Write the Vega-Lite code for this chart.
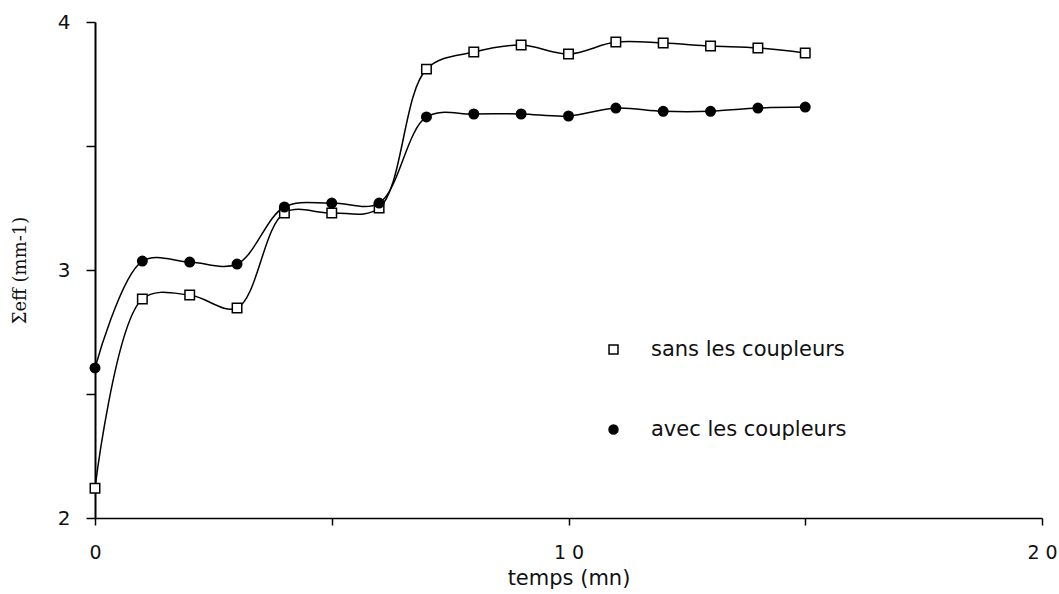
{
  "$schema": "https://vega.github.io/schema/vega-lite/v6.json",
  "width": 947,
  "height": 496,
  "autosize": "none",
  "padding": {"left": 95, "top": 22, "right": 17, "bottom": 76},
  "background": "white",
  "config": {"view": {"stroke": null}, "font": "DejaVu Sans"},
  "data": {
    "values": [
      {"s": "sans les coupleurs", "t": 0, "v": 2.12},
      {"s": "sans les coupleurs", "t": 1, "v": 2.883},
      {"s": "sans les coupleurs", "t": 2, "v": 2.899},
      {"s": "sans les coupleurs", "t": 3, "v": 2.847},
      {"s": "sans les coupleurs", "t": 4, "v": 3.23},
      {"s": "sans les coupleurs", "t": 5, "v": 3.23},
      {"s": "sans les coupleurs", "t": 6, "v": 3.25},
      {"s": "sans les coupleurs", "t": 7, "v": 3.81},
      {"s": "sans les coupleurs", "t": 8, "v": 3.879},
      {"s": "sans les coupleurs", "t": 9, "v": 3.907},
      {"s": "sans les coupleurs", "t": 10, "v": 3.871},
      {"s": "sans les coupleurs", "t": 11, "v": 3.919},
      {"s": "sans les coupleurs", "t": 12, "v": 3.915},
      {"s": "sans les coupleurs", "t": 13, "v": 3.903},
      {"s": "sans les coupleurs", "t": 14, "v": 3.895},
      {"s": "sans les coupleurs", "t": 15, "v": 3.875},
      {"s": "avec les coupleurs", "t": 0, "v": 2.605},
      {"s": "avec les coupleurs", "t": 1, "v": 3.036},
      {"s": "avec les coupleurs", "t": 2, "v": 3.032},
      {"s": "avec les coupleurs", "t": 3, "v": 3.024},
      {"s": "avec les coupleurs", "t": 4, "v": 3.254},
      {"s": "avec les coupleurs", "t": 5, "v": 3.27},
      {"s": "avec les coupleurs", "t": 6, "v": 3.27},
      {"s": "avec les coupleurs", "t": 7, "v": 3.617},
      {"s": "avec les coupleurs", "t": 8, "v": 3.629},
      {"s": "avec les coupleurs", "t": 9, "v": 3.629},
      {"s": "avec les coupleurs", "t": 10, "v": 3.621},
      {"s": "avec les coupleurs", "t": 11, "v": 3.653},
      {"s": "avec les coupleurs", "t": 12, "v": 3.64},
      {"s": "avec les coupleurs", "t": 13, "v": 3.64},
      {"s": "avec les coupleurs", "t": 14, "v": 3.653},
      {"s": "avec les coupleurs", "t": 15, "v": 3.657}
    ]
  },
  "encoding": {
    "x": {
      "field": "t",
      "type": "quantitative",
      "scale": {"domain": [0, 20], "nice": false},
      "axis": {
        "values": [0, 5, 10, 15, 20],
        "labelExpr": "datum.value % 10 ? '' : join(split(datum.label, ''), ' ')",
        "grid": false,
        "domainColor": "black",
        "domainWidth": 1.5,
        "tickColor": "black",
        "tickWidth": 1.5,
        "tickSize": 7,
        "labelPadding": 18,
        "labelFont": "DejaVu Sans",
        "labelFontSize": 19,
        "labelColor": "#111",
        "labelFlush": false,
        "labelOverlap": false,
        "title": "temps (mn)",
        "titleFont": "DejaVu Sans",
        "titleFontSize": 21,
        "titleFontWeight": "normal",
        "titleColor": "#111",
        "titleBaseline": "middle",
        "titleY": 60,
        "encode": {
          "ticks": {
            "update": {
              "y": {"signal": "datum.value === 20 ? -14 : (datum.value === 0 ? -3 : 0)"},
              "y2": {"signal": "datum.value === 20 ? 12 : (datum.value % 10 ? 4 : 7)"}
            }
          }
        }
      }
    },
    "y": {
      "field": "v",
      "type": "quantitative",
      "scale": {"domain": [2, 4], "nice": false, "zero": false},
      "axis": {
        "values": [2, 2.5, 3, 3.5, 4],
        "labelExpr": "datum.value % 1 ? '' : format(datum.value, 'd')",
        "grid": false,
        "domainColor": "black",
        "domainWidth": 2,
        "tickColor": "black",
        "tickWidth": 1.5,
        "tickSize": 9,
        "labelPadding": 16,
        "labelFont": "DejaVu Sans",
        "labelFontSize": 20,
        "labelColor": "#111",
        "labelFlush": false,
        "labelOverlap": false,
        "title": "Σeff (mm-1)",
        "titleFont": "DejaVu Serif",
        "titleFontSize": 18,
        "titleFontWeight": "normal",
        "titleColor": "#111",
        "titleAngle": -90,
        "titleAlign": "center",
        "titleBaseline": "middle",
        "titleX": -75,
        "titleY": 248,
        "encode": {
          "ticks": {
            "update": {
              "x2": {"signal": "datum.value % 1 ? -4 : -9"}
            }
          }
        }
      }
    }
  },
  "layer": [
    {
      "mark": {"type": "line", "interpolate": "catmull-rom", "color": "black", "strokeWidth": 1.5},
      "encoding": {"detail": {"field": "s"}}
    },
    {
      "mark": {"type": "point", "filled": true, "stroke": "black", "strokeWidth": 1.5, "opacity": 1, "size": 90},
      "encoding": {
        "shape": {
          "field": "s",
          "type": "nominal",
          "scale": {"domain": ["sans les coupleurs", "avec les coupleurs"], "range": ["square", "circle"]},
          "legend": {
            "title": null,
            "orient": "none",
            "legendX": 508,
            "legendY": 317,
            "padding": 0,
            "labelFont": "DejaVu Sans",
            "labelFontSize": 21,
            "labelColor": "#111",
            "labelOffset": 27,
            "labelLimit": 400,
            "rowPadding": 58,
            "symbolSize": 80,
            "encode": {
              "symbols": {
                "update": {
                  "stroke": {"value": "black"},
                  "strokeWidth": {"value": 1.5}
                }
              }
            }
          }
        },
        "fill": {
          "field": "s",
          "type": "nominal",
          "scale": {"domain": ["sans les coupleurs", "avec les coupleurs"], "range": ["white", "black"]},
          "legend": {
            "title": null,
            "orient": "none",
            "legendX": 508,
            "legendY": 317,
            "padding": 0,
            "labelFont": "DejaVu Sans",
            "labelFontSize": 21,
            "labelColor": "#111",
            "labelOffset": 27,
            "labelLimit": 400,
            "rowPadding": 58,
            "symbolSize": 80,
            "encode": {
              "symbols": {
                "update": {
                  "stroke": {"value": "black"},
                  "strokeWidth": {"value": 1.5}
                }
              }
            }
          }
        }
      }
    }
  ]
}
